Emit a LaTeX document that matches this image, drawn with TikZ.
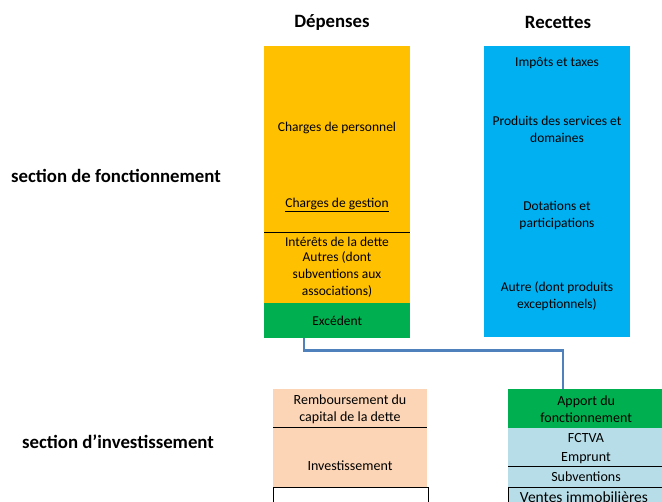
\documentclass[tikz,border=0pt]{standalone}
\usepackage{fontspec}
\setmainfont{Carlito}
\usetikzlibrary{positioning}
\definecolor{depfill}{HTML}{FFC000}
\definecolor{recfill}{HTML}{00B0F0}
\definecolor{excfill}{HTML}{00B050}
\definecolor{invfill}{HTML}{FBD5B5}
\definecolor{ressfill}{HTML}{B7DEE8}
\definecolor{linkcol}{HTML}{4F81BD}

\begin{document}
\begin{tikzpicture}[x=1pt,y=-1pt,
    block/.style={rectangle, inner sep=0, anchor=north west},
    lbl/.style={font=\fontsize{13.5}{17}\selectfont, align=center, inner sep=0},
    lblinv/.style={font=\fontsize{14}{17}\selectfont, align=center, inner sep=0},
    title/.style={font=\fontsize{18.8}{20}\selectfont\bfseries, inner sep=0},
    link/.style={linkcol, line width=2.4pt}]
	%Config
	\useasboundingbox (0,0) rectangle (662,502);
	\clip (0,0) rectangle (662,502);

	%Titres
	\node[title] (depenses) at (332,22) {Dépenses};
	\node[title] (recettes) at (558,22) {Recettes};
	\node[title] (sfonc) at (116,176) {section de fonctionnement};
	\node[title] (sinv) at (118,442) {section d’investissement};

	%Depenses de fonctionnement
	\node[block, fill=depfill, minimum width=146, minimum height=257] (dep) at (264,46) {};
	\node[block, fill=excfill, minimum width=146, minimum height=35] (exc) at (264,303) {};
	\draw[line width=1pt] (dep.west |- 0,233) -- (dep.east |- 0,233);
	\node[lbl] (perso) at (337,128) {Charges de personnel};
	\node[lbl] (gestion) at (337,205) {\underline{Charges de gestion}};
	\node[lbl] (interets) at (337,242) {Intérêts de la dette};
	\node[lbl, anchor=north] (autres) at (337,251) {Autres (dont\\subventions aux\\associations)};
	\node[lbl] (excedent) at (exc.center) {Excédent};

	%Recettes de fonctionnement
	\node[block, fill=recfill, minimum width=146, minimum height=291] (rec) at (484,46) {};
	\node[lbl] (impots) at (557,63) {Impôts et taxes};
	\node[lbl] (produits) at (557,129) {Produits des services et\\domaines};
	\node[lbl] (dotations) at (557,215) {Dotations et\\participations};
	\node[lbl] (autre) at (557,296) {Autre (dont produits\\exceptionnels)};

	%Depenses d'investissement
	\node[block, fill=invfill, minimum width=154, minimum height=98] (inv) at (273,389) {};
	\draw[line width=1pt] (inv.west |- 0,428) -- (inv.east |- 0,428);
	\node[lblinv] (rembourse) at (350,409) {Remboursement du\\capital de la dette};
	\node[lblinv] (invest) at (350,466) {Investissement};
	\node[block, draw=black, line width=1pt, minimum width=155, minimum height=30] (vide) at (273,487) {};

	%Recettes d'investissement
	\node[block, fill=excfill, minimum width=156, minimum height=39] (apport) at (508,389) {};
	\node[block, fill=ressfill, minimum width=156, minimum height=98] (ress) at (508,428) {};
	\draw[line width=1pt] (ress.west |- 0,467) -- (ress.east |- 0,467);
	\node[block, draw=black, line width=1pt, minimum width=160, minimum height=30] (ventes) at (508,487) {};
	\node[lblinv] (apporttxt) at (apport.center) {Apport du\\fonctionnement};
	\node[lblinv] (fctva) at (586,438) {FCTVA};
	\node[lblinv] (emprunt) at (586,458) {Emprunt};
	\node[lblinv] (subv) at (586,477) {Subventions};
	\node[lblinv, font=\fontsize{15.5}{17}\selectfont] (ventestxt) at (584,497) {Ventes immobilières};

	%Liaison excedent -> apport
	\draw[link] ([xshift=-33pt]exc.south) -- ++(0,12) -| ([xshift=-23pt]apport.north);
\end{tikzpicture}
\end{document}
